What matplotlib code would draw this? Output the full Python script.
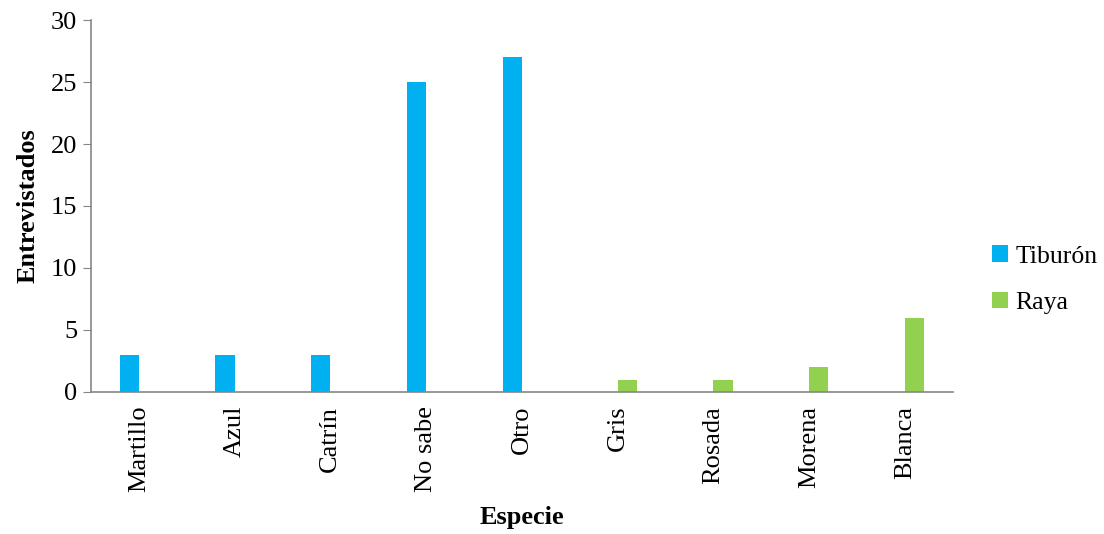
import numpy as np
import matplotlib
matplotlib.use('Agg')
import matplotlib.pyplot as plt

# Datos por especie
especies = ['Martillo', 'Azul', 'Catrín', 'No sabe', 'Otro',
            'Gris', 'Rosada', 'Morena', 'Blanca']
tiburon = [3, 3, 3, 25, 27, 0, 0, 0, 0]
raya = [0, 0, 0, 0, 0, 1, 1, 2, 6]
y_ticks = [0, 5, 10, 15, 20, 25, 30]

plt.rcParams['font.family'] = ['Liberation Serif', 'DejaVu Serif']

fig = plt.figure(figsize=(11.04, 5.34), dpi=100)
ax = fig.add_axes([0.0824, 0.266, 0.7806, 0.6965])

x = np.arange(len(especies))
w = 0.2
ax.bar(x - w / 2, tiburon, width=w, color='#00B0F0', label='Tiburón')
ax.bar(x + w / 2, raya, width=w, color='#92D050', label='Raya')

ax.set_xlim(-0.5, len(especies) - 0.5)
ax.set_ylim(0, 30)
ax.set_yticks(y_ticks)
ax.set_xticks(x)
ax.set_xticklabels(especies, rotation=90, fontsize=19)
ax.tick_params(axis='y', labelsize=19, length=6, color='#868686', pad=4)
ax.tick_params(axis='x', length=0, pad=10)

for side in ['top', 'right']:
    ax.spines[side].set_visible(False)
for side in ['left', 'bottom']:
    ax.spines[side].set_color('#868686')
    ax.spines[side].set_linewidth(1.2)

ax.set_ylabel('Entrevistados', fontsize=19, fontweight='bold', labelpad=8)
ax.set_xlabel('Especie', fontsize=19, fontweight='bold', labelpad=10)

fig.legend(loc='center left', bbox_to_anchor=(0.899, 0.476), frameon=False,
           fontsize=18.5, handlelength=0.6, handleheight=0.6,
           handletextpad=0.3, labelspacing=0.95, borderpad=0,
           borderaxespad=0)

fig.savefig('out.png', dpi=100)
